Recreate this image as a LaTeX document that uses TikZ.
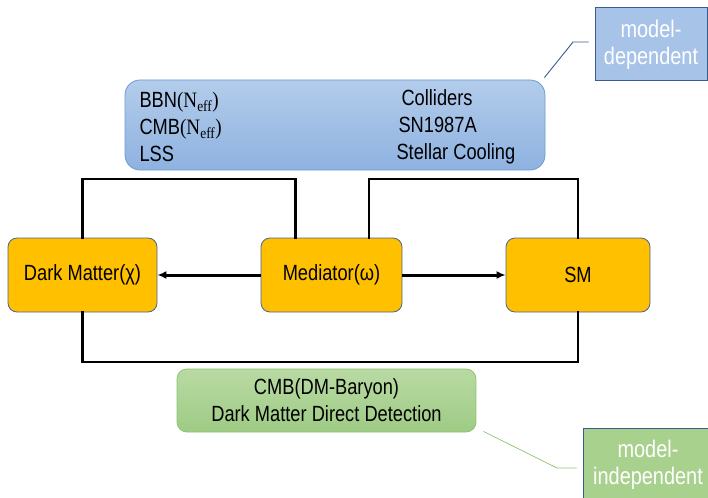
\documentclass[tikz,border=0pt]{standalone}
\usepackage{fontspec}
\setmainfont{Liberation Sans}[FakeStretch=0.83]
\newfontfamily\serifN{Liberation Serif}[FakeStretch=0.87]
\usepackage{tikz}
\usetikzlibrary{arrows.meta, positioning, calc}
\definecolor{boxorange}{HTML}{FFC000}
\definecolor{boxedge}{HTML}{4A6394}
\definecolor{bluetop}{HTML}{B3CCEB}
\definecolor{bluebot}{HTML}{8EB2E0}
\definecolor{blueedge}{HTML}{6C9BD6}
\definecolor{bluenote}{HTML}{A7C3E8}
\definecolor{greentop}{HTML}{B9DAA3}
\definecolor{greenbot}{HTML}{9ECB85}
\definecolor{greenedge}{HTML}{8CC36E}
\definecolor{greennote}{HTML}{A9D18E}
\definecolor{notedark}{HTML}{3A5A92}

\begin{document}
\begin{tikzpicture}[x=1pt, y=-1pt, >={Latex[length=9pt,width=8pt]},
		Box/.style={
            draw=boxedge,
            line width=0.8pt,
            fill=boxorange,
            rounded corners=9pt,
            minimum height=74pt,
            font=\fontsize{22}{26}\selectfont
		},
		Note/.style={
            draw=notedark,
            line width=1pt,
            text=white,
            align=center,
            font=\fontsize{24}{27}\selectfont
		},
		Link/.style={line width=2.5pt, line cap=rect},
		Flow/.style={->, line width=3pt}]
		\useasboundingbox (0,0) rectangle (708,497);
		% particle boxes
		\node[Box, minimum width=149pt] (dm) at (82.5,275) {Dark Matter(\char"03C7)};
		\node[Box, minimum width=141pt] (med) at (331.5,275) {Mediator(\char"03C9)};
		\node[Box, minimum width=144pt] (sm) at (578,275) {SM};
		% constraint boxes
		\node[draw=blueedge, line width=0.8pt, rounded corners=15pt,
		top color=bluetop, bottom color=bluebot,
		minimum width=420pt, minimum height=90pt] (cosmo) at (335,125) {};
		\node[anchor=west, align=left, font=\fontsize{22}{27}\selectfont] (leftlist) at (136,127)
		{BBN{\serifN(N\textsubscript{eff})}\\CMB{\serifN(N\textsubscript{eff})}\\LSS};
		\node[anchor=west, align=left, font=\fontsize{22}{27}\selectfont] (rightlist) at (393,127)
		{\hspace{5pt}Colliders\\\hspace{2pt}SN1987A\\Stellar Cooling};
		\node[draw=greenedge, line width=0.8pt, rounded corners=10pt,
		top color=greentop, bottom color=greenbot, align=center,
		font=\fontsize{22}{27}\selectfont,
		minimum width=299pt, minimum height=63pt] (direct) at (326.5,400.5)
		{CMB(DM-Baryon)\\Dark Matter Direct Detection};
		% labels
		\node[Note, fill=bluenote, minimum width=112pt, minimum height=73pt] (mdep) at (651,44.5) {model-\\dependent};
		\node[Note, fill=greennote, minimum width=130pt, minimum height=74pt] (mind) at (648,465) {model-\\independent};
		% connectors
		\coordinate (medl) at ($(med.north west)!0.245!(med.north east)$);
		\coordinate (medr) at ($(med.north west)!0.765!(med.north east)$);
		\coordinate (toprow) at (0,179);
		\coordinate (botrow) at (0,362);
		\draw[Link] (dm.north) -- (dm.north |- toprow) -- (medl |- toprow) -- (medl);
		\draw[Link] (medr) -- (medr |- toprow) -- (sm.north |- toprow) -- (sm.north);
		\draw[Link] (dm.south) -- (dm.south |- botrow) -- (sm.south |- botrow) -- (sm.south);
		\draw[Flow] (med) -- (dm);
		\draw[Flow] (med) -- (sm);
		% callouts
		\coordinate (mdepbend) at (573,42);
		\coordinate (mindbend) at (557,468);
		\draw[notedark, line width=0.9pt] ($(cosmo.north east)+(-1,-2)$) -- (mdepbend) -- ($(mdep.west)+(-6,-2.5)$);
		\draw[greenedge, line width=0.7pt] ($(direct.south east)+(7,-1)$) -- (mindbend) -- ($(mind.west |- mindbend)+(-6,0)$);
\end{tikzpicture}
\end{document}
